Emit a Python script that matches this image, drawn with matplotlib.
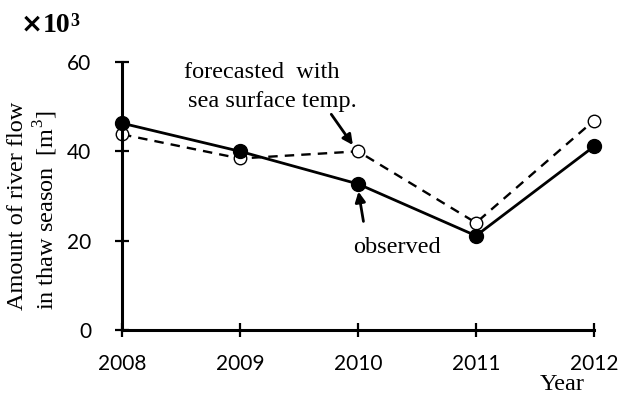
"""River flow in thaw season: observed vs forecasted."""
# %% Imports
from matplotlib import pyplot as plt

# %% Data
years = [2008, 2009, 2010, 2011, 2012]
observed = [46.3, 40.0, 32.7, 21.1, 41.1]
forecasted = [43.8, 38.4, 40.0, 24.0, 46.9]
y_ticks = [0, 20, 40, 60]

# %% Plot
serif = "Liberation Serif"
sans = "Lato"
fs = 17.5
plt.rcParams["mathtext.fontset"] = "custom"
plt.rcParams["mathtext.rm"] = serif
plt.rcParams["mathtext.bf"] = serif + ":bold"

fig = plt.figure(figsize=(6.18, 3.94), dpi=100)
ax = fig.add_axes([122 / 618, 64 / 394, 472 / 618, 268 / 394])

ax.plot(years, forecasted, color="black", linestyle=(0, (4, 3)), linewidth=1.7,
        marker="o", markersize=9, markerfacecolor="white", markeredgecolor="black",
        markeredgewidth=1.0, zorder=2, clip_on=False)
ax.plot(years, observed, color="black", linestyle="-", linewidth=2.0,
        marker="o", markersize=10, markerfacecolor="black", markeredgecolor="black",
        zorder=3, clip_on=False)

ax.set_xlim(2008, 2012)
ax.set_ylim(0, 60)
ax.set_xticks(years)
ax.set_yticks(y_ticks)
for s in ["top", "right"]:
    ax.spines[s].set_visible(False)
for s in ["left", "bottom"]:
    ax.spines[s].set_linewidth(2.2)
ax.tick_params(direction="inout", length=10, width=1.6, labelsize=15)
ax.tick_params(axis="x", pad=12)
ax.tick_params(axis="y", pad=17)
for lab in ax.get_xticklabels() + ax.get_yticklabels():
    lab.set_fontfamily(sans)

# annotations
ax.annotate("", xy=(2010 - 0.03, 40.9), xytext=(2009.76, 48.8),
            arrowprops=dict(arrowstyle="-|>,head_length=0.6,head_width=0.3",
                            color="black", lw=2))
ax.annotate("", xy=(2010, 31.6), xytext=(2010.05, 23.7),
            arrowprops=dict(arrowstyle="-|>,head_length=0.6,head_width=0.3",
                            color="black", lw=2))
fig.text(262 / 618, 1 - 72 / 394, "forecasted  with", family=serif, fontsize=fs,
         ha="center", va="center")
fig.text(272 / 618, 1 - 102 / 394, "sea surface temp.", family=serif, fontsize=fs,
         ha="center", va="center")
fig.text(397 / 618, 1 - 247 / 394, "observed", family=serif, fontsize=fs,
         ha="center", va="center")

# axis labels
fig.text(18 / 618, 1 - 206 / 394, "Amount of river flow", family=serif, fontsize=fs,
         rotation=90, ha="center", va="center")
fig.text(46 / 618, 1 - 210 / 394, "in thaw season  [m$^3$]", family=serif, fontsize=fs,
         rotation=90, ha="center", va="center")
fig.text(562 / 618, 1 - 385 / 394, "Year", family=serif, fontsize=fs,
         ha="center", va="center")
fig.text(21 / 618, 1 - 25 / 394, "\u00d7", family="DejaVu Sans", fontsize=19,
         fontweight="bold", ha="left", va="center")
fig.text(43 / 618, 1 - 25 / 394, "10", family=serif, fontsize=20, fontweight="bold",
         ha="left", va="center")
fig.text(70 / 618, 1 - 13 / 394, "3", family=serif, fontsize=13, fontweight="bold",
         ha="left", va="top")

fig.savefig("out.png", dpi=100)
